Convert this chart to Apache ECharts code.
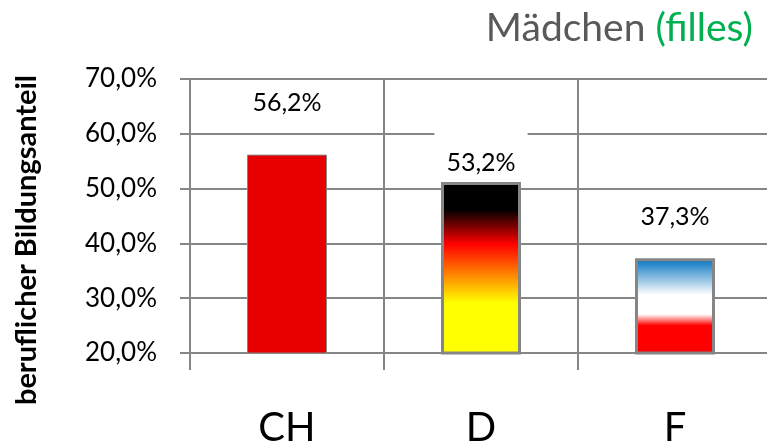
<!DOCTYPE html>
<html><head><meta charset="utf-8">
<script src="https://cdn.jsdelivr.net/npm/echarts@6/dist/echarts.min.js"></script>
<style>html,body{margin:0;padding:0;background:#fff}#c{width:767px;height:447px}</style>
</head><body><div id="c"></div>
<script>
var categories = ['CH', 'D', 'F'];
var barValues = [56.2, 51.2, 37.3];
var labelTexts = ['56,2%', '53,2%', '37,3%'];
var yTicks = [20, 30, 40, 50, 60, 70];
var titleMain = 'Mädchen';
var titleSub = '(filles)';
var yName = 'beruflicher Bildungsanteil';

var FONT = 'Lato, "Open Sans", sans-serif';
var grey = '#868686';

var fills = [
  '#E60000',
  {type:'linear', x:0, y:0, x2:0, y2:1, colorStops:[
    {offset:0, color:'#000000'}, {offset:0.16, color:'#000000'},
    {offset:0.36, color:'#FF0000'}, {offset:0.70, color:'#FFFF00'}, {offset:1, color:'#FFFF00'}]},
  {type:'linear', x:0, y:0, x2:0, y2:1, colorStops:[
    {offset:0, color:'#0070C0'}, {offset:0.38, color:'#FFFFFF'},
    {offset:0.58, color:'#FFFFFF'}, {offset:0.70, color:'#FF0000'}, {offset:1, color:'#FF0000'}]}
];
var borders = [1, 3, 3];
var labelDist = [40, 7, 29];
var labelBg = ['transparent', '#fff', 'transparent'];
var labelPad = [[0, 0, 0, 0], [22, 12, 0, 12], [0, 0, 0, 0]];

var data = barValues.map(function(v, i){
  return {
    value: v,
    itemStyle: {color: fills[i], borderColor: grey, borderWidth: borders[i]},
    label: {formatter: labelTexts[i], distance: labelDist[i], backgroundColor: labelBg[i], padding: labelPad[i]}
  };
});

var chart = echarts.init(document.getElementById('c'));
chart.setOption({
  animation: false,
  title: {
    text: '{a|' + titleMain + '}  {b|' + titleSub + '}',
    right: 9, top: 4,
    textStyle: {fontWeight: 'normal', rich: {
      a: {fontFamily: FONT, fontSize: 39, fontWeight: 'normal', color: '#595959'},
      b: {fontFamily: FONT, fontSize: 39, fontWeight: 'normal', color: '#00B050'}
    }}
  },
  grid: {left: 190, top: 79, width: 582, bottom: 94, containLabel: false, outerBoundsMode: 'none'},
  xAxis: {
    type: 'category', data: categories, boundaryGap: true,
    axisLine: {lineStyle: {color: grey, width: 2}},
    axisTick: {show: true, length: 17, lineStyle: {color: grey, width: 2}},
    splitLine: {show: true, lineStyle: {color: grey, width: 2}},
    axisLabel: {fontFamily: FONT, fontSize: 40, color: '#000', margin: 55}
  },
  yAxis: {
    type: 'value', min: yTicks[0], max: yTicks[yTicks.length-1], interval: 10,
    name: yName, nameLocation: 'middle', nameRotate: 90, nameGap: 149,
    nameTextStyle: {fontFamily: FONT, fontSize: 29, fontWeight: 'bold', color: '#000', padding: [0, 48, 0, 0]},
    axisLine: {show: true, lineStyle: {color: grey, width: 2}},
    axisTick: {show: true, length: 10, lineStyle: {color: grey, width: 2}},
    splitLine: {show: true, lineStyle: {color: grey, width: 2}},
    axisLabel: {fontFamily: FONT, fontSize: 26, color: '#000', margin: 33,
      formatter: function(v){ return v.toFixed(1).replace('.', ',') + '%'; }}
  },
  series: [{
    type: 'bar', data: data, barWidth: 80,
    label: {show: true, position: 'top', fontFamily: FONT, fontSize: 25, color: '#000', lineHeight: 24}
  }]
});
</script></body></html>
